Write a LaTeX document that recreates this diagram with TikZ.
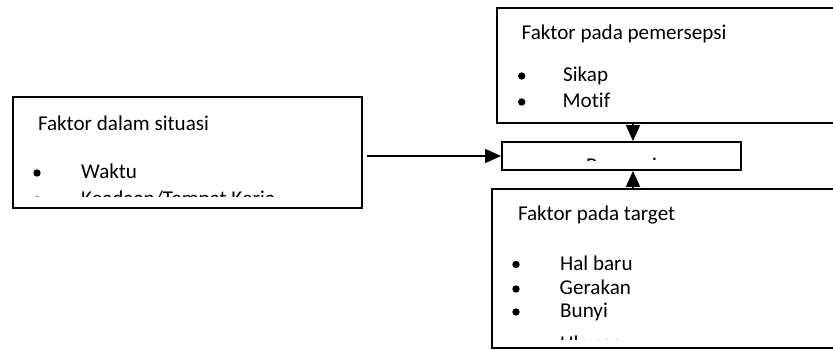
\documentclass[tikz,border=0pt]{standalone}
\usepackage{fontspec}
\setmainfont{Carlito}[Ligatures=NoCommon]
\usetikzlibrary{arrows.meta}
\newcommand{\fs}{\fontsize{21.1}{25}\selectfont}
\begin{document}
\begin{tikzpicture}[x=1pt,y=-1pt,
  box/.style={draw, line width=1.8pt, rectangle, inner sep=0pt},
  txt/.style={anchor=base west, inner sep=0pt, font=\fs},
  ctxt/.style={anchor=base, inner sep=0pt, font=\fs},
  bul/.style={circle, fill, inner sep=0pt, minimum size=7.4pt},
  arr/.style={line width=1.5pt, -{Triangle[length=16pt,width=14pt]}}]
\clip (0,0) rectangle (833,349);
% boxes
\node[box, minimum width=349pt, minimum height=111pt] (L) at (187.5,152.5) {};
\node[box, minimum width=373pt, minimum height=115pt] (T) at (683.5,65.5) {};
\node[box, minimum width=239pt, minimum height=28pt] (C) at (621.5,156) {};
\node[box, minimum width=378pt, minimum height=159pt] (B) at (681,268.5) {};
% left box text
\node[txt] (l0) at (37.8,130) {Faktor dalam situasi};
\node[bul] (lb1) at (37,173) {};
\node[txt] (l1) at (81,178) {Waktu};
\begin{scope}
  \clip (14,98) rectangle (361,196.2);
  \node[bul] (lb2) at (37,200) {};
  \node[txt] (l2) at (81,205.5) {Keadaan/Tempat Kerja};
\end{scope}
% top box text
\node[txt] (t0) at (521.5,39) {Faktor pada pemersepsi};
\node[bul] (tb1) at (521.7,76) {};
\node[txt] (t1) at (563,81) {Sikap};
\node[bul] (tb2) at (521.7,102) {};
\node[txt] (t2) at (562.5,107.3) {Motif};
% centre text
\begin{scope}
  \clip (503,143) rectangle (740,160.8);
  \node[ctxt] (c0) at (621.5,172.3) {Persepsi};
\end{scope}
% bottom box text
\node[txt] (b0) at (517.8,220) {Faktor pada target};
\node[bul] (bb1) at (516,264.5) {};
\node[txt] (b1) at (560,270) {Hal baru};
\node[bul] (bb2) at (516,289) {};
\node[txt] (b2) at (559.5,294) {Gerakan};
\node[bul] (bb3) at (516,312) {};
\node[txt] (b3) at (560,317) {Bunyi};
\begin{scope}
  \clip (493,190) rectangle (869,339.3);
  \node[bul] (bb4) at (516,344.5) {};
  \node[txt] (b4) at (560,350) {Ukuran};
\end{scope}
% connectors
\coordinate (s) at (367,156);
\coordinate (ax) at (633,0);
\draw[arr] (s) -- (C.west);
\draw[arr] (T.south -| ax) -- (C.north -| ax);
\draw[arr] (B.north -| ax) -- (C.south -| ax);
\end{tikzpicture}
\end{document}
